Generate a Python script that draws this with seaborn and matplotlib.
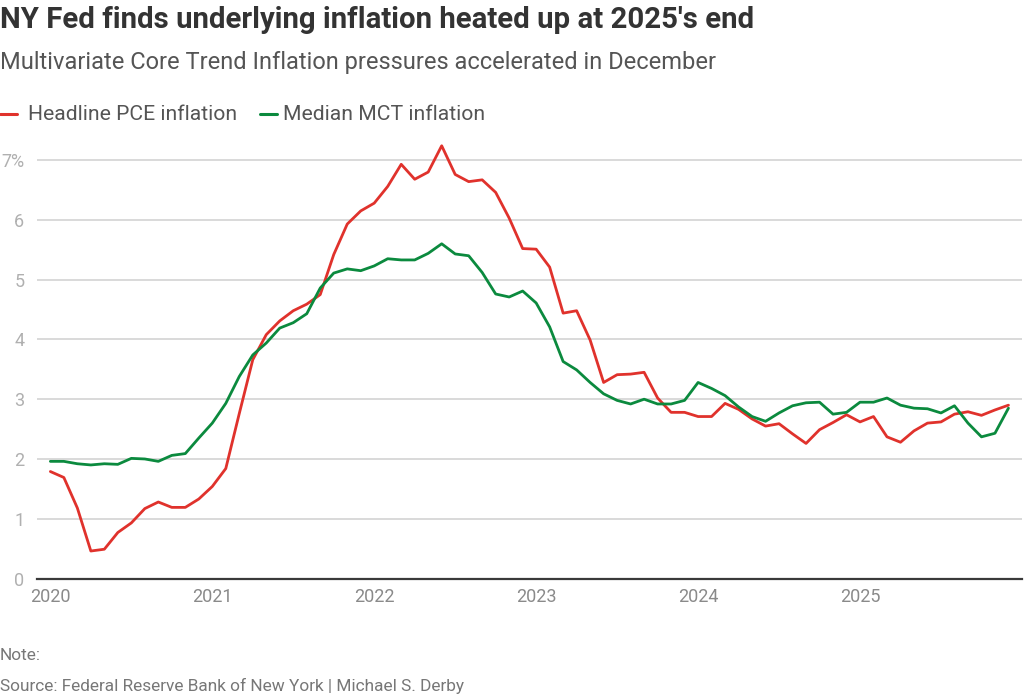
import numpy as np
import pandas as pd
import matplotlib
matplotlib.use("Agg")
import matplotlib.pyplot as plt
import seaborn as sns

# monthly values, Jan 2020 - Dec 2025
headline_pce = [
    1.79, 1.69, 1.18, 0.46, 0.49, 0.77, 0.93, 1.17, 1.28, 1.19, 1.19, 1.33,
    1.54, 1.84, 2.76, 3.66, 4.08, 4.31, 4.48, 4.59, 4.75, 5.42, 5.93, 6.15,
    6.28, 6.56, 6.93, 6.68, 6.80, 7.24, 6.76, 6.64, 6.67, 6.46, 6.03, 5.52,
    5.51, 5.21, 4.44, 4.48, 3.99, 3.28, 3.41, 3.42, 3.45, 3.02, 2.78, 2.78,
    2.71, 2.71, 2.93, 2.83, 2.67, 2.55, 2.59, 2.42, 2.26, 2.49, 2.61, 2.74,
    2.62, 2.71, 2.37, 2.28, 2.47, 2.60, 2.62, 2.75, 2.79, 2.73, 2.82, 2.90,
]
median_mct = [
    1.96, 1.96, 1.92, 1.90, 1.92, 1.91, 2.01, 2.00, 1.96, 2.06, 2.09, 2.35,
    2.60, 2.93, 3.38, 3.74, 3.94, 4.19, 4.28, 4.43, 4.86, 5.11, 5.18, 5.15,
    5.23, 5.35, 5.33, 5.33, 5.44, 5.60, 5.43, 5.40, 5.12, 4.76, 4.71, 4.81,
    4.61, 4.21, 3.63, 3.49, 3.28, 3.09, 2.98, 2.92, 3.00, 2.92, 2.92, 2.98,
    3.28, 3.18, 3.06, 2.87, 2.71, 2.63, 2.77, 2.89, 2.94, 2.95, 2.75, 2.78,
    2.95, 2.95, 3.02, 2.90, 2.85, 2.84, 2.77, 2.89, 2.60, 2.37, 2.43, 2.85,
]
years = ["2020", "2021", "2022", "2023", "2024", "2025"]
y_ticks = [0, 1, 2, 3, 4, 5, 6, 7]
y_labels = ["0", "1", "2", "3", "4", "5", "6", "7%"]

RED = "#e0322c"
GREEN = "#0b8a3e"

df = pd.DataFrame({
    "month": np.arange(len(headline_pce)),
    "Headline PCE inflation": headline_pce,
    "Median MCT inflation": median_mct,
})
long = df.melt(id_vars="month", var_name="series", value_name="value")

sns.set_style("white")
plt.rcParams["font.family"] = ["Roboto", "DejaVu Sans"]

fig = plt.figure(figsize=(10.24, 6.97), dpi=100)
ax = fig.add_axes([0.036, 0.170, 0.962, 0.626])

sns.lineplot(data=long, x="month", y="value", hue="series",
             palette={"Headline PCE inflation": RED, "Median MCT inflation": GREEN},
             linewidth=2.0, legend=False, ax=ax, zorder=3)
for ln in ax.lines:
    ln.set_clip_on(False)

ax.set_xlim(-1, 72)
ax.set_ylim(0, 7.3)
ax.set_xticks([12 * i for i in range(len(years))])
ax.set_xticklabels(years, fontsize=13, color="#8a8a8a")
ax.set_yticks(y_ticks)
ax.set_yticklabels(y_labels, fontsize=13, color="#b0b0b0")
ax.tick_params(axis="both", length=0)
ax.tick_params(axis="y", pad=9)
ax.tick_params(axis="x", pad=7)
ax.set_xlabel("")
ax.set_ylabel("")
ax.grid(axis="y", color="#d3d3d3", linewidth=1.2)
ax.grid(axis="x", visible=False)
for s in ["top", "right", "left"]:
    ax.spines[s].set_visible(False)
ax.spines["bottom"].set_color("#3a3a3a")
ax.spines["bottom"].set_linewidth(1.6)
ax.spines["bottom"].set_zorder(4)

fig.text(0.0, 1 - 20 / 697, "NY Fed finds underlying inflation heated up at 2025's end",
         fontsize=21.2, fontweight="bold", color="#333333", va="center", ha="left")
fig.text(0.0, 1 - 62 / 697, "Multivariate Core Trend Inflation pressures accelerated in December",
         fontsize=17, color="#555555", va="center", ha="left")

# legend row
ly = 1 - 114 / 697
fig.add_artist(plt.Line2D([0.0, 17 / 1024], [ly, ly], color=RED, linewidth=2.2))
fig.text(28 / 1024, ly, "Headline PCE inflation", fontsize=15.2, color="#555555",
         va="center", ha="left")
fig.add_artist(plt.Line2D([260 / 1024, 277 / 1024], [ly, ly], color=GREEN, linewidth=2.2))
fig.text(283 / 1024, ly, "Median MCT inflation", fontsize=15.2, color="#555555",
         va="center", ha="left")

fig.text(0.0, 1 - 656 / 697, "Note:", fontsize=12.4, color="#777777", va="center", ha="left")
fig.text(0.0, 1 - 686 / 697, "Source: Federal Reserve Bank of New York | Michael S. Derby",
         fontsize=12.4, color="#777777", va="center", ha="left")

fig.savefig("out.png", dpi=100)
